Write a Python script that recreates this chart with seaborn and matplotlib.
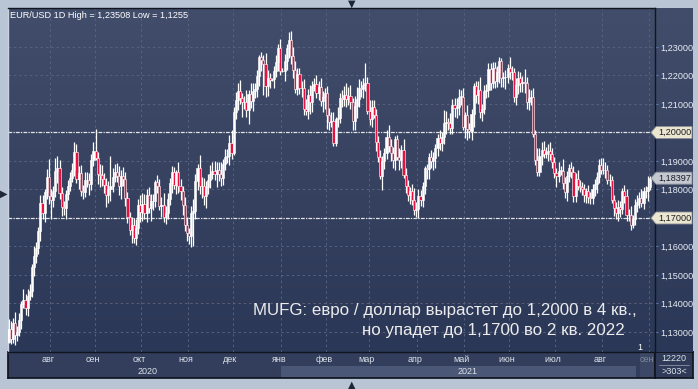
import numpy as np
import matplotlib
matplotlib.use("Agg")
import matplotlib.pyplot as plt
import matplotlib.transforms as mtransforms
from matplotlib.colors import LinearSegmentedColormap
from matplotlib.patches import Polygon
import seaborn as sns

# EUR/USD daily closes, 6 Jul 2020 .. 1 Sep 2021
closes = [
    # jul 2020
    1.1309, 1.1275, 1.1330, 1.1289, 1.1300, 1.1342, 1.1398, 1.1412, 1.1383, 1.1428,
    1.1443, 1.1528, 1.1568, 1.1595, 1.1655, 1.1752, 1.1718, 1.1790, 1.1845, 1.1778,
    # aug
    1.1762, 1.1793, 1.1864, 1.1877, 1.1788, 1.1738, 1.1736, 1.1784, 1.1813, 1.1842,
    1.1869, 1.1930, 1.1838, 1.1859, 1.1796, 1.1792, 1.1833, 1.1832, 1.1819, 1.1903, 1.1936,
    # sep
    1.1912, 1.1854, 1.1850, 1.1838, 1.1817, 1.1779, 1.1801, 1.1812, 1.1845, 1.1863,
    1.1846, 1.1812, 1.1848, 1.1838, 1.1771, 1.1702, 1.1659, 1.1674, 1.1631, 1.1665, 1.1745, 1.1720,
    # oct
    1.1748, 1.1716, 1.1780, 1.1736, 1.1759, 1.1760, 1.1825, 1.1812, 1.1743, 1.1747,
    1.1705, 1.1717, 1.1767, 1.1822, 1.1860, 1.1815, 1.1860, 1.1811, 1.1793, 1.1747, 1.1674, 1.1646,
    # nov
    1.1638, 1.1716, 1.1723, 1.1829, 1.1875, 1.1814, 1.1811, 1.1776, 1.1810, 1.1834,
    1.1856, 1.1865, 1.1853, 1.1870, 1.1855, 1.1842, 1.1888, 1.1913, 1.1916, 1.1962, 1.1927,
    # dec
    1.2071, 1.2113, 1.2145, 1.2120, 1.2106, 1.2108, 1.2079, 1.2134, 1.2110, 1.2147,
    1.2154, 1.2198, 1.2264, 1.2256, 1.2240, 1.2163, 1.2190, 1.2185, 1.2187, 1.2214, 1.2247, 1.2298, 1.2216,
    # jan 2021
    1.2216, 1.2250, 1.2298, 1.2325, 1.2270, 1.2220, 1.2152, 1.2206, 1.2155, 1.2157,
    1.2081, 1.2076, 1.2131, 1.2106, 1.2164, 1.2170, 1.2140, 1.2160, 1.2112, 1.2124, 1.2137,
    # feb
    1.2061, 1.2038, 1.2041, 1.1963, 1.2046, 1.2050, 1.2120, 1.2119, 1.2133, 1.2118,
    1.2128, 1.2106, 1.2039, 1.2092, 1.2119, 1.2156, 1.2151, 1.2166, 1.2174, 1.2075,
    # mar
    1.2048, 1.2090, 1.2062, 1.1966, 1.1915, 1.1847, 1.1901, 1.1927, 1.1985, 1.1951,
    1.1929, 1.1902, 1.1978, 1.1915, 1.1905, 1.1937, 1.1850, 1.1814, 1.1780, 1.1795, 1.1764, 1.1727, 1.1730,
    # apr
    1.1778, 1.1763, 1.1813, 1.1874, 1.1872, 1.1915, 1.1900, 1.1910, 1.1946, 1.1980,
    1.1964, 1.1983, 1.2035, 1.2036, 1.2034, 1.2014, 1.2096, 1.2085, 1.2090, 1.2126, 1.2126, 1.2020,
    # may
    1.2061, 1.2013, 1.2004, 1.2066, 1.2164, 1.2130, 1.2150, 1.2072, 1.2081, 1.2145,
    1.2150, 1.2224, 1.2175, 1.2226, 1.2180, 1.2212, 1.2250, 1.2190, 1.2193, 1.2193, 1.2226,
    # jun
    1.2213, 1.2213, 1.2126, 1.2165, 1.2192, 1.2172, 1.2178, 1.2173, 1.2108, 1.2121,
    1.2125, 1.1995, 1.1905, 1.1863, 1.1917, 1.1940, 1.1925, 1.1930, 1.1936, 1.1924, 1.1895, 1.1857,
    # jul
    1.1848, 1.1866, 1.1866, 1.1823, 1.1790, 1.1846, 1.1875, 1.1861, 1.1776, 1.1837,
    1.1812, 1.1807, 1.1800, 1.1780, 1.1795, 1.1772, 1.1770, 1.1801, 1.1818, 1.1843, 1.1887, 1.1870,
    # aug
    1.1868, 1.1867, 1.1834, 1.1832, 1.1762, 1.1736, 1.1718, 1.1738, 1.1730, 1.1795,
    1.1778, 1.1711, 1.1712, 1.1677, 1.1697, 1.1746, 1.1755, 1.1770, 1.1752, 1.1795, 1.1796, 1.1807,
    # sep
    1.18397,
]
first_open = 1.1265

# shadow lengths in pips above / below the candle body
upper_wick = [
    37, 30, 20, 41, 20, 25, 12, 40, 22, 24, 24, 12, 33, 20, 15, 30, 30, 12, 28, 63,
    25, 20, 45, 39, 25, 20, 22, 15, 20, 20, 25, 36, 30, 25, 28, 20, 30, 30, 25, 20, 30,
    75, 20, 35, 35, 20, 25, 30, 105, 30, 25, 30, 36, 20, 30, 25, 20, 20, 30, 25, 30, 20, 35,
    40, 35, 20, 30, 25, 25, 10, 25, 25, 25, 40, 25, 20, 20, 21, 20, 10, 35, 25, 20, 25, 30,
    20, 25, 45, 25, 15, 45, 30, 30, 20, 20, 30, 30, 35, 25, 25, 40, 20, 30, 25, 30, 45,
    20, 30, 30, 40, 20, 20, 40, 15, 40, 25, 20, 20, 8, 17, 15, 40, 30, 20, 5, 20, 25, 12, 30,
    10, 25, 13, 26, 30, 30, 30, 20, 20, 25, 30, 35, 20, 35, 15, 20, 30, 20, 30, 20, 20,
    25, 25, 30, 30, 10, 40, 20, 30, 30, 40, 30, 40, 15, 35, 40, 30, 25, 25, 69, 20,
    40, 25, 25, 20, 20, 25, 15, 20, 25, 40, 25, 20, 10, 12, 30, 20, 40, 25, 20, 15, 25, 40, 25,
    25, 20, 15, 10, 15, 12, 25, 20, 15, 15, 30, 20, 45, 40, 15, 35, 20, 25, 30, 25, 24, 30,
    10, 35, 20, 15, 10, 15, 30, 45, 20, 20, 20, 20, 20, 20, 20, 20, 16, 10, 20, 25, 15,
    40, 20, 15, 25, 25, 20, 20, 45, 20, 30, 25, 30, 15, 40, 30, 25, 30, 20, 25, 30, 20, 20,
    20, 30, 15, 40, 20, 20, 15, 20, 20, 20, 30, 20, 20, 20, 10, 20, 20, 20, 20, 20, 20, 22,
    40, 30, 20, 20, 15, 20, 20, 25, 20, 10, 20, 25, 20, 30, 15, 20, 25, 20, 30, 15, 15, 40,
    8,
]
lower_wick = [
    5, 18, 15, 34, 20, 15, 30, 15, 25, 28, 15, 20, 30, 25, 20, 35, 20, 32, 25, 30,
    66, 25, 20, 40, 20, 30, 25, 40, 22, 20, 15, 20, 15, 35, 20, 25, 20, 25, 40, 20, 20,
    10, 35, 40, 25, 30, 40, 25, 40, 20, 20, 20, 30, 45, 25, 30, 20, 20, 45, 19, 25, 20, 35,
    30, 20, 30, 20, 45, 30, 20, 25, 15, 40, 20, 25, 20, 20, 35, 15, 30, 25, 30, 35, 20, 25,
    30, 40, 113, 25, 30, 30, 40, 30, 40, 25, 30, 20, 20, 45, 25, 30, 25, 20, 20, 30, 20,
    5, 25, 35, 20, 50, 25, 25, 50, 25, 35, 25, 30, 35, 40, 110, 40, 35, 30, 5, 30, 20, 30, 15,
    5, 35, 30, 35, 30, 30, 15, 20, 20, 30, 20, 15, 30, 40, 35, 20, 20, 25, 20, 40, 40,
    50, 30, 20, 12, 10, 25, 15, 30, 25, 30, 20, 25, 30, 30, 40, 30, 25, 30, 20, 10,
    20, 30, 10, 30, 20, 10, 50, 30, 20, 20, 30, 25, 35, 10, 35, 30, 10, 25, 20, 30, 20, 15, 23,
    30, 20, 25, 30, 35, 35, 25, 30, 35, 30, 25, 30, 25, 40, 25, 20, 20, 30, 35, 30, 30, 10,
    40, 40, 25, 30, 45, 25, 30, 20, 30, 15, 25, 25, 25, 20, 25, 20, 40, 30, 30, 40, 20,
    25, 30, 20, 30, 30, 30, 30, 35, 25, 30, 25, 10, 20, 16, 15, 30, 15, 15, 30, 20, 20, 15,
    40, 20, 15, 20, 20, 30, 20, 20, 20, 20, 15, 15, 20, 25, 27, 20, 20, 20, 25, 30, 20, 15,
    15, 25, 15, 20, 10, 30, 20, 30, 25, 15, 25, 20, 20, 20, 13, 20, 25, 20, 15, 20, 25, 35,
    10,
]

month_labels = ["авг", "сен", "окт", "ноя", "дек", "янв", "фев", "мар", "апр", "май", "июн", "июл", "авг", "сен"]
month_start = [20, 41, 63, 85, 106, 129, 150, 170, 193, 215, 236, 258, 280, 302]
year_labels = ["2020", "2021"]
year_pos = [65.5, 216]
price_ticks = [1.13, 1.14, 1.15, 1.16, 1.17, 1.18, 1.19, 1.20, 1.21, 1.22, 1.23]
level_lines = [1.20, 1.17]
last_price = 1.18397

title = "EUR/USD 1D High = 1,23508 Low = 1,1255"
note_1 = "MUFG: евро / доллар вырастет до 1,2000 в 4 кв.,"
note_2 = "но упадет до 1,1700 во 2 кв. 2022"

assert len(closes) == len(upper_wick) == len(lower_wick)

# candle geometry
c = np.array(closes)
o = np.concatenate([[first_open], c[:-1]])
hi = np.maximum(o, c) + np.array(upper_wick) / 10000
lo = np.minimum(o, c) - np.array(lower_wick) / 10000
idx = np.arange(len(c))

sns.set_theme(style="dark")
plt.rcParams["font.family"] = ["Liberation Sans", "DejaVu Sans"]

W, H = 698, 389
fig = plt.figure(figsize=(W / 100, H / 100), dpi=100)
fig.patch.set_facecolor("#b9c5d5")


def box(x0, y0, x1, y1):
    # pixel box -> figure fraction [left, bottom, width, height]
    return [x0 / W, 1 - y1 / H, (x1 - x0) / W, (y1 - y0) / H]


bg = LinearSegmentedColormap.from_list("bg", ["#414d6a", "#2b3756"])
grad = np.linspace(0, 1, 256).reshape(-1, 1)

xlim = (-0.25, 304.4)
ylim = (1.12298, 1.24368)

# right price panel
ax_r = fig.add_axes(box(655, 8, 693, 352))
ax_r.imshow(grad, cmap=bg, aspect="auto", extent=[0, 1, 0, 1])
ax_r.set_axis_off()
ax_r.set_zorder(1)

# main chart
ax = fig.add_axes(box(8, 8, 655, 352))
ax.set_zorder(2)
ax.imshow(grad, cmap=bg, aspect="auto", extent=[xlim[0], xlim[1], ylim[0], ylim[1]], zorder=0)

grid_kw = dict(color="#56627f", lw=0.7, ls=(0, (2.5, 3)), zorder=1)
for p in price_ticks:
    ax.axhline(p, **grid_kw)
for m in month_start:
    ax.axvline(m - 0.5, **grid_kw)
for p in level_lines:
    ax.axhline(p, color="#e4e4e4", lw=0.9, ls=(0, (3, 1, 1, 1)), zorder=2)

ax.vlines(idx, lo, hi, color="white", lw=0.9, zorder=3)
body_col = np.where(c < o, "#e8103e", "white")
ax.bar(idx, np.maximum(np.abs(c - o), 0.00008), bottom=np.minimum(o, c), width=1.0,
       color=body_col, edgecolor="white", linewidth=0.4, zorder=4)

ax.set_xlim(*xlim)
ax.set_ylim(*ylim)
ax.set_xticks([])
ax.yaxis.tick_right()
ax.set_yticks(price_ticks)
ax.set_yticklabels(["" if p in level_lines else f"{p:.5f}".replace(".", ",") for p in price_ticks])
ax.tick_params(axis="y", right=True, length=2, width=0.8, color="#5a78b0", pad=1.5,
               labelsize=6.6, labelcolor="#e8edf5")
for s in ax.spines.values():
    s.set_color("#10151f")
    s.set_linewidth(1)
ax.spines["left"].set_color("#c9d2de")

# price tags on the right axis
trans = mtransforms.blended_transform_factory(ax.transAxes, ax.transData)
tip, x_in, x_end = (651 - 8) / 647, (656 - 8) / 647, (692 - 8) / 647
hh = 6 / 2850
for p, fc in [(1.20, "#ebe6cf"), (1.17, "#ebe6cf"), (last_price, "#c4c8d0")]:
    ax.add_patch(Polygon([(tip, p), (x_in, p + hh), (x_end, p + hh), (x_end, p - hh), (x_in, p - hh)],
                         closed=True, facecolor=fc, edgecolor="#8a8f98", lw=0.6,
                         transform=trans, clip_on=False, zorder=6))
    ax.text((658 - 8) / 647, p, f"{p:.5f}".replace(".", ","), transform=trans, ha="left",
            va="center", fontsize=6.6, color="#1c1c24", zorder=7, clip_on=False)

ax.text(2 / 647, 1 - 7 / 344, title, transform=ax.transAxes, ha="left", va="center",
        fontsize=6.6, color="white", zorder=8)
ax.text((637 - 8) / 647, (352 - 311) / 344, note_1, transform=ax.transAxes, ha="right",
        va="center", fontsize=12.2, color="#ececec", zorder=8)
ax.text((625 - 8) / 647, (352 - 331) / 344, note_2, transform=ax.transAxes, ha="right",
        va="center", fontsize=12.2, color="#ececec", zorder=8)
ax.text((640 - 8) / 647, 5 / 344, "1", transform=ax.transAxes, ha="center", va="center",
        fontsize=6.5, color="white", zorder=8)

# month / year strip under the chart
ax_b = fig.add_axes(box(8, 352, 655, 378))
ax_b.set_facecolor("#323e5b")
ax_b.set_xlim(*xlim)
ax_b.set_ylim(0, 1)
ax_b.axvspan(128.5, 295.5, ymin=0, ymax=0.46, color="#4b5776", lw=0)
ax_b.axvspan(297.5, 304.4, color="#3c4865", lw=0)
for m, lab in zip(month_start, month_labels):
    ax_b.text(m - 1.5, 0.72, lab, ha="center", va="center", fontsize=6.5,
              color="#7d889c" if m == month_start[-1] else "#dce2eb")
for x, lab in zip(year_pos, year_labels):
    ax_b.text(x, 0.24, lab, ha="center", va="center", fontsize=6.5, color="#dce2eb")
ax_b.set_xticks([])
ax_b.set_yticks([])
for s in ax_b.spines.values():
    s.set_color("#10151f")

# corner box with bar counter
ax_c = fig.add_axes(box(655, 352, 693, 378))
ax_c.set_facecolor("#2f3b58")
ax_c.set_xlim(0, 1)
ax_c.set_ylim(0, 1)
ax_c.set_xticks([])
ax_c.set_yticks([])
for s in ax_c.spines.values():
    s.set_color("#10151f")
ax_c.text(0.5, 0.74, "12220", ha="center", va="center", fontsize=6.5, color="#dce2eb")
ax_c.plot([0.1, 0.9], [0.5, 0.5], color="#8a94a8", lw=0.6)
ax_c.text(0.5, 0.24, ">303<", ha="center", va="center", fontsize=6.5, color="#dce2eb")

# scroll markers on the frame
fig.text(352 / W, 1 - 4 / H, "▼", ha="center", va="center", fontsize=7, color="#1d2636", family="DejaVu Sans")
fig.text(352 / W, 1 - 385 / H, "▲", ha="center", va="center", fontsize=7, color="#1d2636", family="DejaVu Sans")
fig.text(4 / W, 1 - 194 / H, "▶", ha="center", va="center", fontsize=7, color="#1d2636", family="DejaVu Sans")

fig.savefig("out.png", dpi=100, facecolor=fig.get_facecolor())
